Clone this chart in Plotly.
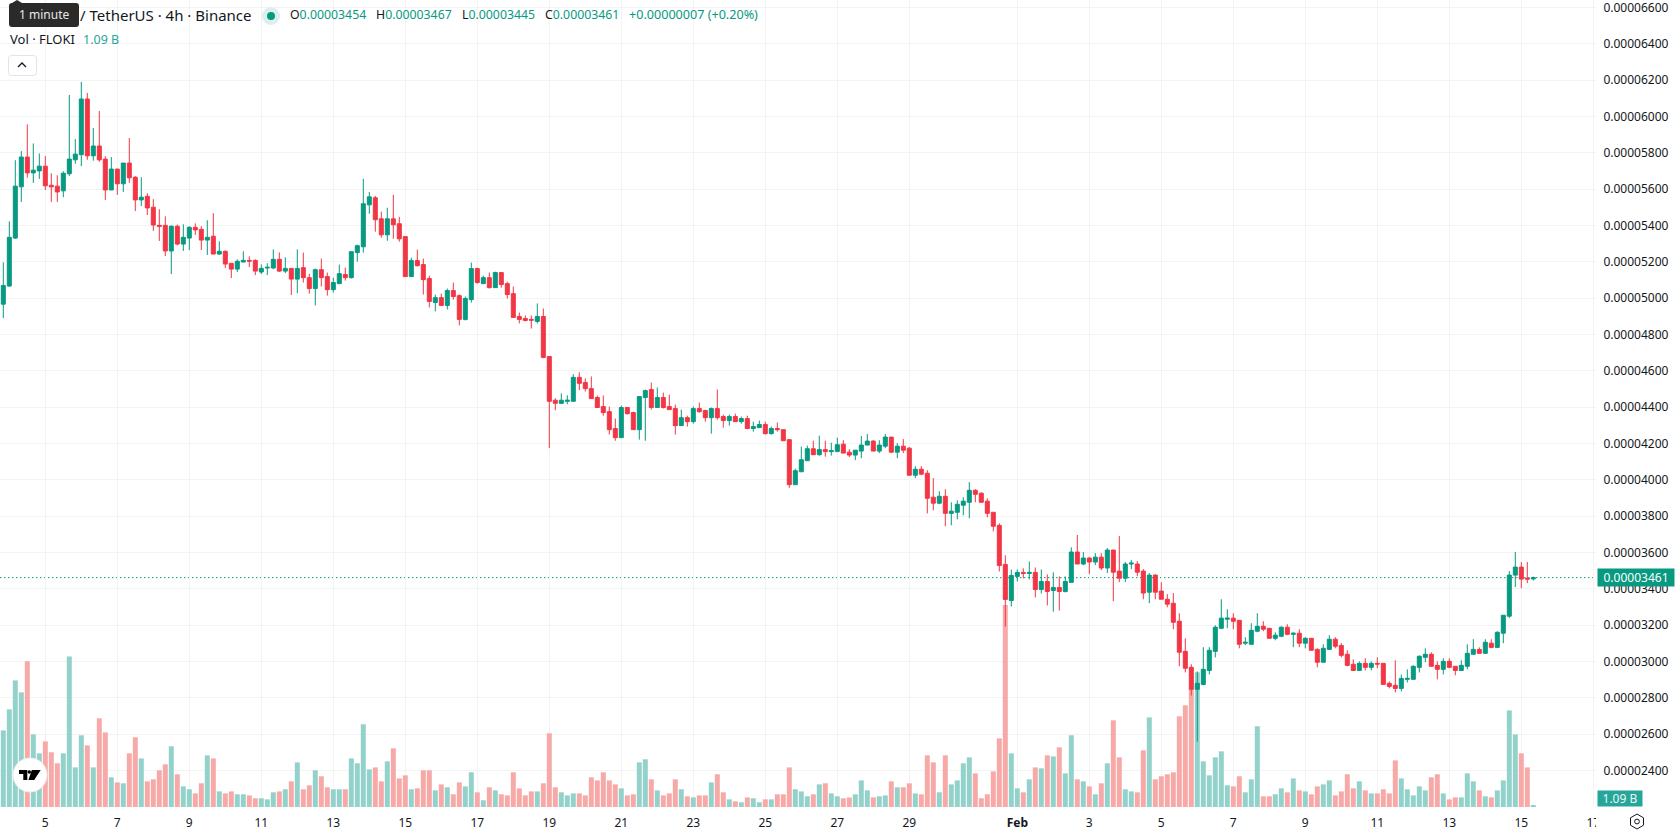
import pandas as pd
import plotly.graph_objects as go

# FLOKI / USDT, 4h candles. Prices are in units of 1e-8 USDT, volume in billions of FLOKI.
PRICE_UNIT = 1e-8
FIRST_BAR = "2026-01-03 20:00"

open_ = [
    4967, 5067, 5331, 5613, 5777, 5690, 5701, 5727, 5622, 5617,
    5591, 5685, 5762, 5790, 6097, 5784, 5838, 5766, 5596, 5711,
    5630, 5744, 5666, 5541, 5561, 5501, 5401, 5401, 5260, 5396,
    5298, 5331, 5390, 5379, 5320, 5341, 5243, 5258, 5192, 5160,
    5199, 5208, 5208, 5144, 5166, 5166, 5214, 5149, 5164, 5105,
    5168, 5113, 5053, 5157, 5119, 5047, 5080, 5130, 5113, 5251,
    5283, 5514, 5553, 5437, 5349, 5437, 5410, 5339, 5119, 5207,
    5185, 5108, 4976, 5003, 4960, 5042, 5014, 4883, 4992, 5163,
    5080, 5113, 5058, 5141, 5080, 5025, 4899, 4888, 4883, 4872,
    4899, 4679, 4438, 4421, 4432, 4432, 4564, 4536, 4502, 4453,
    4403, 4375, 4282, 4232, 4398, 4370, 4276, 4453, 4497, 4398,
    4453, 4403, 4392, 4298, 4342, 4320, 4392, 4381, 4342, 4392,
    4348, 4326, 4348, 4320, 4337, 4282, 4287, 4304, 4254, 4282,
    4276, 4221, 3973, 4044, 4105, 4171, 4138, 4166, 4155, 4155,
    4196, 4152, 4136, 4158, 4191, 4213, 4158, 4185, 4235, 4152,
    4185, 4174, 4025, 4058, 4036, 3904, 3871, 3909, 3815, 3821,
    3860, 3876, 3942, 3926, 3882, 3821, 3749, 3534, 3335, 3468,
    3490, 3484, 3490, 3396, 3440, 3390, 3407, 3385, 3435, 3602,
    3536, 3569, 3547, 3574, 3514, 3613, 3497, 3458, 3536, 3536,
    3497, 3381, 3475, 3387, 3342, 3320, 3221, 3055, 2967, 2846,
    2873, 2950, 3055, 3182, 3232, 3238, 3226, 3100, 3094, 3166,
    3193, 3182, 3127, 3138, 3188, 3149, 3155, 3100, 3127, 3066,
    2995, 3066, 3122, 3088, 3039, 2984, 2950, 2989, 2967, 2989,
    2989, 2879, 2868, 2851, 2901, 2901, 2967, 3022, 3039, 2978,
    2956, 3000, 2973, 2950, 2973, 3039, 3066, 3044, 3100, 3077,
    3155, 3249, 3475, 3519, 3458, 3454,
]
high = [
    5197, 5423, 5760, 5810, 5957, 5852, 5797, 5782, 5688, 5677,
    5699, 6119, 5876, 6191, 6130, 5937, 6031, 5782, 5777, 5711,
    5744, 5882, 5672, 5666, 5578, 5545, 5490, 5451, 5401, 5405,
    5407, 5396, 5412, 5396, 5429, 5468, 5313, 5263, 5192, 5214,
    5258, 5230, 5214, 5186, 5192, 5269, 5252, 5225, 5164, 5269,
    5251, 5135, 5163, 5218, 5141, 5113, 5185, 5168, 5256, 5295,
    5657, 5585, 5563, 5476, 5498, 5569, 5448, 5339, 5223, 5267,
    5218, 5124, 5020, 5025, 5053, 5086, 5020, 5009, 5196, 5168,
    5124, 5141, 5146, 5141, 5091, 5064, 4921, 4905, 4905, 4971,
    4943, 4679, 4449, 4476, 4465, 4581, 4592, 4558, 4569, 4464,
    4464, 4403, 4337, 4409, 4398, 4375, 4458, 4497, 4536, 4508,
    4480, 4469, 4414, 4386, 4353, 4403, 4425, 4386, 4398, 4497,
    4359, 4359, 4364, 4348, 4353, 4320, 4326, 4320, 4293, 4315,
    4276, 4221, 4061, 4182, 4188, 4215, 4243, 4215, 4204, 4232,
    4218, 4169, 4163, 4241, 4252, 4218, 4218, 4252, 4235, 4202,
    4224, 4180, 4075, 4075, 4053, 4009, 3937, 3948, 3876, 3887,
    3904, 3987, 3948, 3931, 3898, 3821, 3760, 3584, 3506, 3506,
    3512, 3550, 3517, 3506, 3479, 3490, 3468, 3468, 3628, 3696,
    3602, 3574, 3596, 3596, 3624, 3613, 3690, 3547, 3558, 3552,
    3508, 3486, 3480, 3436, 3370, 3376, 3265, 3127, 2984, 2945,
    3078, 3078, 3199, 3342, 3287, 3265, 3226, 3133, 3210, 3265,
    3221, 3182, 3160, 3193, 3204, 3160, 3177, 3133, 3127, 3072,
    3094, 3144, 3133, 3100, 3061, 3011, 3000, 3017, 3000, 3022,
    2989, 2890, 3006, 2928, 2956, 2978, 3033, 3072, 3050, 3000,
    3017, 3017, 2973, 3006, 3094, 3122, 3077, 3122, 3122, 3166,
    3254, 3497, 3602, 3547, 3547, 3467,
]
low = [
    4890, 5062, 5326, 5530, 5663, 5635, 5657, 5596, 5530, 5530,
    5556, 5672, 5740, 5727, 5762, 5757, 5751, 5541, 5596, 5569,
    5585, 5635, 5480, 5508, 5458, 5370, 5315, 5232, 5133, 5291,
    5260, 5265, 5348, 5265, 5238, 5243, 5238, 5166, 5111, 5144,
    5199, 5171, 5127, 5133, 5127, 5160, 5144, 5138, 5017, 5028,
    5086, 5025, 4960, 5064, 5014, 5031, 5080, 5097, 5108, 5201,
    5251, 5465, 5366, 5333, 5316, 5327, 5311, 5119, 5119, 5174,
    5020, 4949, 4927, 4960, 4938, 4992, 4850, 4877, 4976, 5080,
    5080, 5053, 5058, 5058, 4998, 4894, 4861, 4872, 4833, 4861,
    4669, 4174, 4383, 4416, 4416, 4432, 4493, 4486, 4447, 4398,
    4353, 4249, 4215, 4232, 4359, 4276, 4221, 4215, 4386, 4398,
    4392, 4386, 4249, 4298, 4293, 4309, 4370, 4320, 4254, 4331,
    4287, 4298, 4320, 4309, 4282, 4265, 4287, 4249, 4249, 4265,
    4215, 3956, 3973, 4044, 4105, 4138, 4133, 4127, 4133, 4155,
    4147, 4125, 4108, 4119, 4191, 4158, 4147, 4174, 4147, 4119,
    4147, 4025, 4009, 4025, 3815, 3832, 3865, 3744, 3749, 3782,
    3804, 3788, 3876, 3876, 3793, 3716, 3495, 3192, 3302, 3440,
    3457, 3451, 3352, 3374, 3308, 3274, 3280, 3379, 3435, 3536,
    3530, 3480, 3530, 3502, 3486, 3331, 3436, 3436, 3508, 3469,
    3342, 3320, 3342, 3342, 3298, 3177, 2973, 2939, 2812, 2558,
    2868, 2928, 3022, 3177, 3182, 3177, 3072, 3089, 3094, 3160,
    3166, 3127, 3116, 3133, 3144, 3078, 3078, 3072, 3061, 2967,
    2995, 3066, 3072, 3022, 2973, 2950, 2950, 2950, 2950, 2962,
    2873, 2851, 2829, 2835, 2884, 2901, 2939, 2995, 2973, 2901,
    2928, 2962, 2923, 2950, 2956, 3039, 3044, 3044, 3072, 3077,
    3100, 3238, 3409, 3403, 3431, 3445,
]
close = [
    5070, 5335, 5617, 5777, 5690, 5705, 5727, 5619, 5613, 5585,
    5688, 5766, 5793, 6097, 5784, 5838, 5762, 5596, 5711, 5630,
    5744, 5663, 5541, 5556, 5497, 5403, 5396, 5260, 5396, 5298,
    5335, 5390, 5376, 5320, 5335, 5243, 5258, 5188, 5160, 5203,
    5208, 5204, 5149, 5164, 5170, 5214, 5149, 5164, 5105, 5164,
    5113, 5053, 5157, 5113, 5047, 5086, 5135, 5113, 5256, 5289,
    5520, 5558, 5432, 5349, 5437, 5404, 5327, 5119, 5207, 5179,
    5102, 4982, 5003, 4960, 5042, 5009, 4883, 4998, 5163, 5086,
    5113, 5058, 5141, 5075, 5020, 4894, 4883, 4877, 4879, 4899,
    4674, 4432, 4421, 4438, 4438, 4564, 4531, 4502, 4447, 4398,
    4370, 4276, 4232, 4398, 4364, 4276, 4458, 4491, 4398, 4453,
    4398, 4386, 4298, 4342, 4320, 4392, 4375, 4342, 4392, 4342,
    4326, 4348, 4320, 4337, 4282, 4293, 4304, 4254, 4282, 4276,
    4215, 3973, 4050, 4110, 4171, 4138, 4166, 4155, 4160, 4193,
    4147, 4136, 4163, 4191, 4213, 4158, 4191, 4235, 4152, 4185,
    4163, 4025, 4058, 4031, 3898, 3871, 3909, 3815, 3827, 3865,
    3882, 3942, 3920, 3876, 3815, 3744, 3528, 3341, 3473, 3490,
    3484, 3490, 3396, 3440, 3385, 3407, 3385, 3440, 3602, 3536,
    3569, 3547, 3574, 3514, 3613, 3491, 3458, 3536, 3541, 3491,
    3376, 3475, 3381, 3342, 3315, 3215, 3050, 2962, 2846, 2879,
    2956, 3061, 3188, 3238, 3238, 3221, 3094, 3105, 3171, 3193,
    3177, 3127, 3144, 3188, 3149, 3155, 3100, 3127, 3061, 2995,
    3072, 3122, 3083, 3033, 2978, 2950, 2989, 2967, 2989, 2985,
    2873, 2862, 2851, 2906, 2906, 2973, 3028, 3039, 2973, 2956,
    3000, 2967, 2950, 2978, 3044, 3066, 3044, 3105, 3077, 3160,
    3254, 3475, 3519, 3453, 3453, 3461,
]
volume = [
    50.1, 63.9, 82.8, 75.0, 95.3, 47.5, 35.1, 42.9, 35.8, 28.6,
    35.1, 98.5, 25.9, 46.9, 40.3, 25.9, 58.0, 48.8, 19.4, 16.1,
    15.5, 35.1, 45.6, 31.8, 16.8, 18.1, 24.0, 27.9, 39.7, 21.4,
    13.5, 11.6, 8.9, 15.5, 33.8, 31.8, 10.2, 8.9, 10.2, 8.3,
    8.3, 7.6, 5.7, 5.7, 5.0, 9.6, 10.2, 11.6, 16.8, 29.2,
    11.6, 14.2, 24.0, 20.1, 12.9, 11.6, 11.6, 11.6, 31.8, 28.6,
    54.1, 24.6, 25.9, 16.8, 29.9, 38.4, 18.7, 20.7, 11.6, 12.2,
    24.0, 24.0, 10.9, 14.8, 12.9, 8.3, 16.1, 13.5, 22.7, 9.6,
    4.4, 12.9, 10.9, 8.3, 7.6, 22.7, 12.2, 7.6, 10.2, 10.2,
    15.5, 48.2, 12.9, 9.6, 7.6, 8.9, 8.9, 7.6, 19.4, 17.4,
    22.7, 17.4, 14.8, 12.2, 7.6, 8.3, 29.2, 31.2, 18.1, 10.9,
    7.6, 8.9, 18.1, 11.6, 7.0, 6.3, 7.6, 7.6, 16.1, 21.4,
    9.6, 5.0, 3.7, 3.1, 6.3, 5.7, 3.1, 5.0, 5.0, 8.3,
    8.3, 25.9, 11.6, 10.2, 7.0, 8.3, 14.8, 15.5, 8.9, 7.0,
    5.7, 6.3, 8.3, 17.4, 10.9, 6.3, 7.0, 7.6, 16.8, 12.9,
    12.9, 15.5, 8.9, 8.3, 33.8, 29.2, 9.6, 33.8, 14.8, 17.4,
    28.6, 32.5, 22.0, 5.7, 8.3, 23.3, 44.9, 132.1, 35.1, 12.2,
    9.6, 18.1, 25.9, 25.3, 33.8, 33.1, 39.0, 22.0, 46.9, 18.1,
    16.8, 13.5, 8.3, 15.5, 28.6, 56.7, 32.5, 11.6, 10.2, 9.6,
    37.1, 58.6, 18.1, 20.1, 21.4, 22.7, 59.3, 66.5, 77.0, 88.1,
    29.9, 20.7, 32.5, 36.4, 14.2, 13.5, 20.1, 9.6, 18.1, 52.8,
    7.0, 7.0, 8.3, 12.2, 9.6, 18.7, 10.9, 10.2, 8.3, 13.5,
    14.8, 17.4, 7.6, 10.2, 21.4, 12.2, 16.8, 10.9, 8.9, 8.9,
    11.6, 8.9, 30.5, 18.7, 11.6, 7.6, 13.5, 10.9, 19.4, 21.4,
    8.9, 5.0, 6.3, 6.3, 22.0, 16.8, 10.9, 7.0, 6.3, 10.9,
    17.4, 63.2, 47.5, 35.1, 25.9, 1.09,
]

tick_dates = [
    "2026-01-05", "2026-01-07", "2026-01-09", "2026-01-11", "2026-01-13",
    "2026-01-15", "2026-01-17", "2026-01-19", "2026-01-21", "2026-01-23",
    "2026-01-25", "2026-01-27", "2026-01-29", "2026-02-01", "2026-02-03",
    "2026-02-05", "2026-02-07", "2026-02-09", "2026-02-11", "2026-02-13",
    "2026-02-15", "2026-02-17",
]
tick_labels = [
    "5", "7", "9", "11", "13", "15", "17", "19", "21", "23", "25", "27", "29",
    "<b>Feb</b>", "3", "5", "7", "9", "11", "13", "15", "17",
]
price_ticks = [2400, 2600, 2800, 3000, 3200, 3400, 3600, 3800, 4000, 4200, 4400,
               4600, 4800, 5000, 5200, 5400, 5600, 5800, 6000, 6200, 6400, 6600]

UP = "#089981"
DOWN = "#f23645"
UP_VOL = "#93d2ca"
DOWN_VOL = "#f7a9a8"
GRID = "#f3f3f4"
INK = "#131722"
FONT = "Noto Sans, sans-serif"

W, H = 1678, 835
PANE_W, PANE_H = 1596, 807


def px(x):
    return x / PANE_W


def py(y):
    return 1 - y / PANE_H


dates = pd.date_range(FIRST_BAR, periods=len(close), freq="4h")
vol_colors = [UP_VOL if c >= o else DOWN_VOL for o, c in zip(open_, close)]

fig = go.Figure()
fig.add_trace(go.Bar(
    x=dates, y=volume, yaxis="y", marker=dict(color=vol_colors, line=dict(width=0)),
    hoverinfo="skip", showlegend=False,
))
fig.add_trace(go.Candlestick(
    x=dates,
    open=[v * PRICE_UNIT for v in open_],
    high=[v * PRICE_UNIT for v in high],
    low=[v * PRICE_UNIT for v in low],
    close=[v * PRICE_UNIT for v in close],
    yaxis="y2",
    increasing=dict(line=dict(color=UP, width=1), fillcolor=UP),
    decreasing=dict(line=dict(color=DOWN, width=1), fillcolor=DOWN),
    showlegend=False,
))


def rect_path(x0, y0, x1, y1, r):
    """Rounded rectangle in paper coordinates, from pixel corners."""
    pts = [
        f"M{px(x0 + r)},{py(y0)}", f"L{px(x1 - r)},{py(y0)}",
        f"Q{px(x1)},{py(y0)} {px(x1)},{py(y0 + r)}", f"L{px(x1)},{py(y1 - r)}",
        f"Q{px(x1)},{py(y1)} {px(x1 - r)},{py(y1)}", f"L{px(x0 + r)},{py(y1)}",
        f"Q{px(x0)},{py(y1)} {px(x0)},{py(y1 - r)}", f"L{px(x0)},{py(y0 + r)}",
        f"Q{px(x0)},{py(y0)} {px(x0 + r)},{py(y0)}", "Z",
    ]
    return "".join(pts)


def poly(points):
    return "M" + "L".join(f"{px(x)},{py(y)}" for x, y in points) + "Z"


def paper_shape(path, fill="rgba(0,0,0,0)", line=None, width=1):
    return dict(type="path", xref="paper", yref="paper", layer="above", path=path,
                fillcolor=fill, line=dict(color=line or "rgba(0,0,0,0)", width=width))


def circle(cx, cy, r, fill, line=None, width=1):
    return dict(type="circle", xref="paper", yref="paper", layer="above",
                x0=px(cx - r), x1=px(cx + r), y0=py(cy + r), y1=py(cy - r),
                fillcolor=fill, line=dict(color=line or "rgba(0,0,0,0)", width=width))


shapes = [
    # last close marker
    dict(type="line", xref="paper", yref="y2", layer="below", x0=0, x1=1,
         y0=close[-1] * PRICE_UNIT, y1=close[-1] * PRICE_UNIT,
         line=dict(color=UP, width=1, dash="1.5px,2.5px")),
    # the date scale stops at the pane's right edge
    paper_shape(poly([(1596, 808), (1678, 808), (1678, 835), (1596, 835)]), fill="#ffffff"),
    # tooltip
    paper_shape(rect_path(9, 3, 79, 27, 3), fill="#2a2a2a"),
    paper_shape(poly([(12, 3), (17, 0), (22, 3)]), fill="#2a2a2a"),
    # market status dot
    circle(271, 16, 9, "#dcf1ee"),
    circle(271, 16, 4, UP),
    # collapse button
    paper_shape(rect_path(8.5, 55.5, 36.5, 75.5, 3), fill="#ffffff", line="#e0e3eb"),
    dict(type="path", xref="paper", yref="paper", layer="above",
         path=f"M{px(18)},{py(67)}L{px(22)},{py(63)}L{px(26)},{py(67)}",
         line=dict(color=INK, width=1.3)),
    # logo badge
    circle(30, 775, 17, "#ffffff", "#ececec"),
    paper_shape(poly([(19, 770), (27.3, 770), (27.3, 780), (23.3, 780), (23.3, 774), (19, 774)]), fill="#000000"),
    circle(29.3, 772, 1.8, "#000000"),
    paper_shape(poly([(31.8, 770), (40.7, 770), (34.2, 780), (28.4, 780)]), fill="#000000"),
    # settings icon
    paper_shape(poly([(1637, 814), (1643.5, 817.8), (1643.5, 825.2), (1637, 829), (1630.5, 825.2), (1630.5, 817.8)]),
                line=INK, width=1),
    circle(1637, 821.5, 2.4, "rgba(0,0,0,0)", INK),
]


def label(x, y, text, size=13, color=INK, xanchor="left", **kw):
    return dict(xref="paper", yref="paper", x=px(x), y=py(y), text=text, showarrow=False,
                xanchor=xanchor, yanchor="middle", align="left",
                font=dict(family=FONT, size=size, color=color), **kw)


def ohlc_value(name, value):
    return f'<span style="color:{INK}">{name}</span>{value}'


annotations = [
    label(44, 14, "1 minute", size=12, color="#e8e8e8", xanchor="center"),
    label(78, 15, "/ TetherUS · 4h · Binance", size=15),
    label(288, 15, ohlc_value("O", "0.00003454"), size=12.3, color=UP),
    label(374, 15, ohlc_value("H", "0.00003467"), size=12.3, color=UP),
    label(460, 15, ohlc_value("L", "0.00003445"), size=12.3, color=UP),
    label(543, 15, ohlc_value("C", "0.00003461"), size=12.3, color=UP),
    label(627, 15, "+0.00000007 (+0.20%)", size=12.6, color=UP),
    label(8, 39, "Vol · FLOKI", size=13),
    label(81, 39, "1.09 B", size=12.5, color="#26a69a"),
    # value tags on the price scale
    dict(xref="paper", yref="paper", x=px(1597), y=py(577.5), xanchor="left", yanchor="middle",
         text="0.00003461", showarrow=False, bgcolor=UP, width=76, height=17, align="center",
         font=dict(family=FONT, size=12, color="#ffffff"), borderpad=0),
    dict(xref="paper", yref="paper", x=px(1597), y=py(798.5), xanchor="left", yanchor="middle",
         text="1.09 B", showarrow=False, bgcolor="#26a69a", width=44, height=15, align="center",
         font=dict(family=FONT, size=12, color="#e9f6f4"), borderpad=0),
]

fig.update_layout(
    width=W, height=H, autosize=False,
    margin=dict(l=0, r=W - PANE_W, t=0, b=H - PANE_H, pad=0),
    paper_bgcolor="#ffffff", plot_bgcolor="#ffffff",
    bargap=1 / 6, boxgap=1 / 3, boxgroupgap=0,
    hovermode=False, showlegend=False,
    font=dict(family=FONT, size=12, color=INK),
    shapes=shapes, annotations=annotations,
    xaxis=dict(
        type="date", range=["2026-01-03 17:48", "2026-02-17 01:48"],
        tickmode="array", tickvals=tick_dates, ticktext=tick_labels, tickangle=0,
        showgrid=True, gridcolor=GRID, gridwidth=1, zeroline=False, showline=False,
        ticks="outside", ticklen=5, tickcolor="rgba(0,0,0,0)",
        rangeslider=dict(visible=False), anchor="y",
        tickfont=dict(family=FONT, size=12, color=INK),
    ),
    yaxis=dict(range=[0, 527.8], visible=False, showgrid=False, zeroline=False, fixedrange=True),
    yaxis2=dict(
        overlaying="y", side="right", anchor="x", range=[2198e-8, 6642e-8],
        tickmode="array", tickvals=[v * PRICE_UNIT for v in price_ticks], tickformat=".8f",
        showgrid=True, gridcolor=GRID, gridwidth=1, zeroline=False, showline=False,
        ticks="outside", ticklen=4, tickcolor="rgba(0,0,0,0)", ticklabeloverflow="allow",
        tickfont=dict(family=FONT, size=12, color=INK),
    ),
)

fig.write_html("out.html", config={"displayModeBar": False})
